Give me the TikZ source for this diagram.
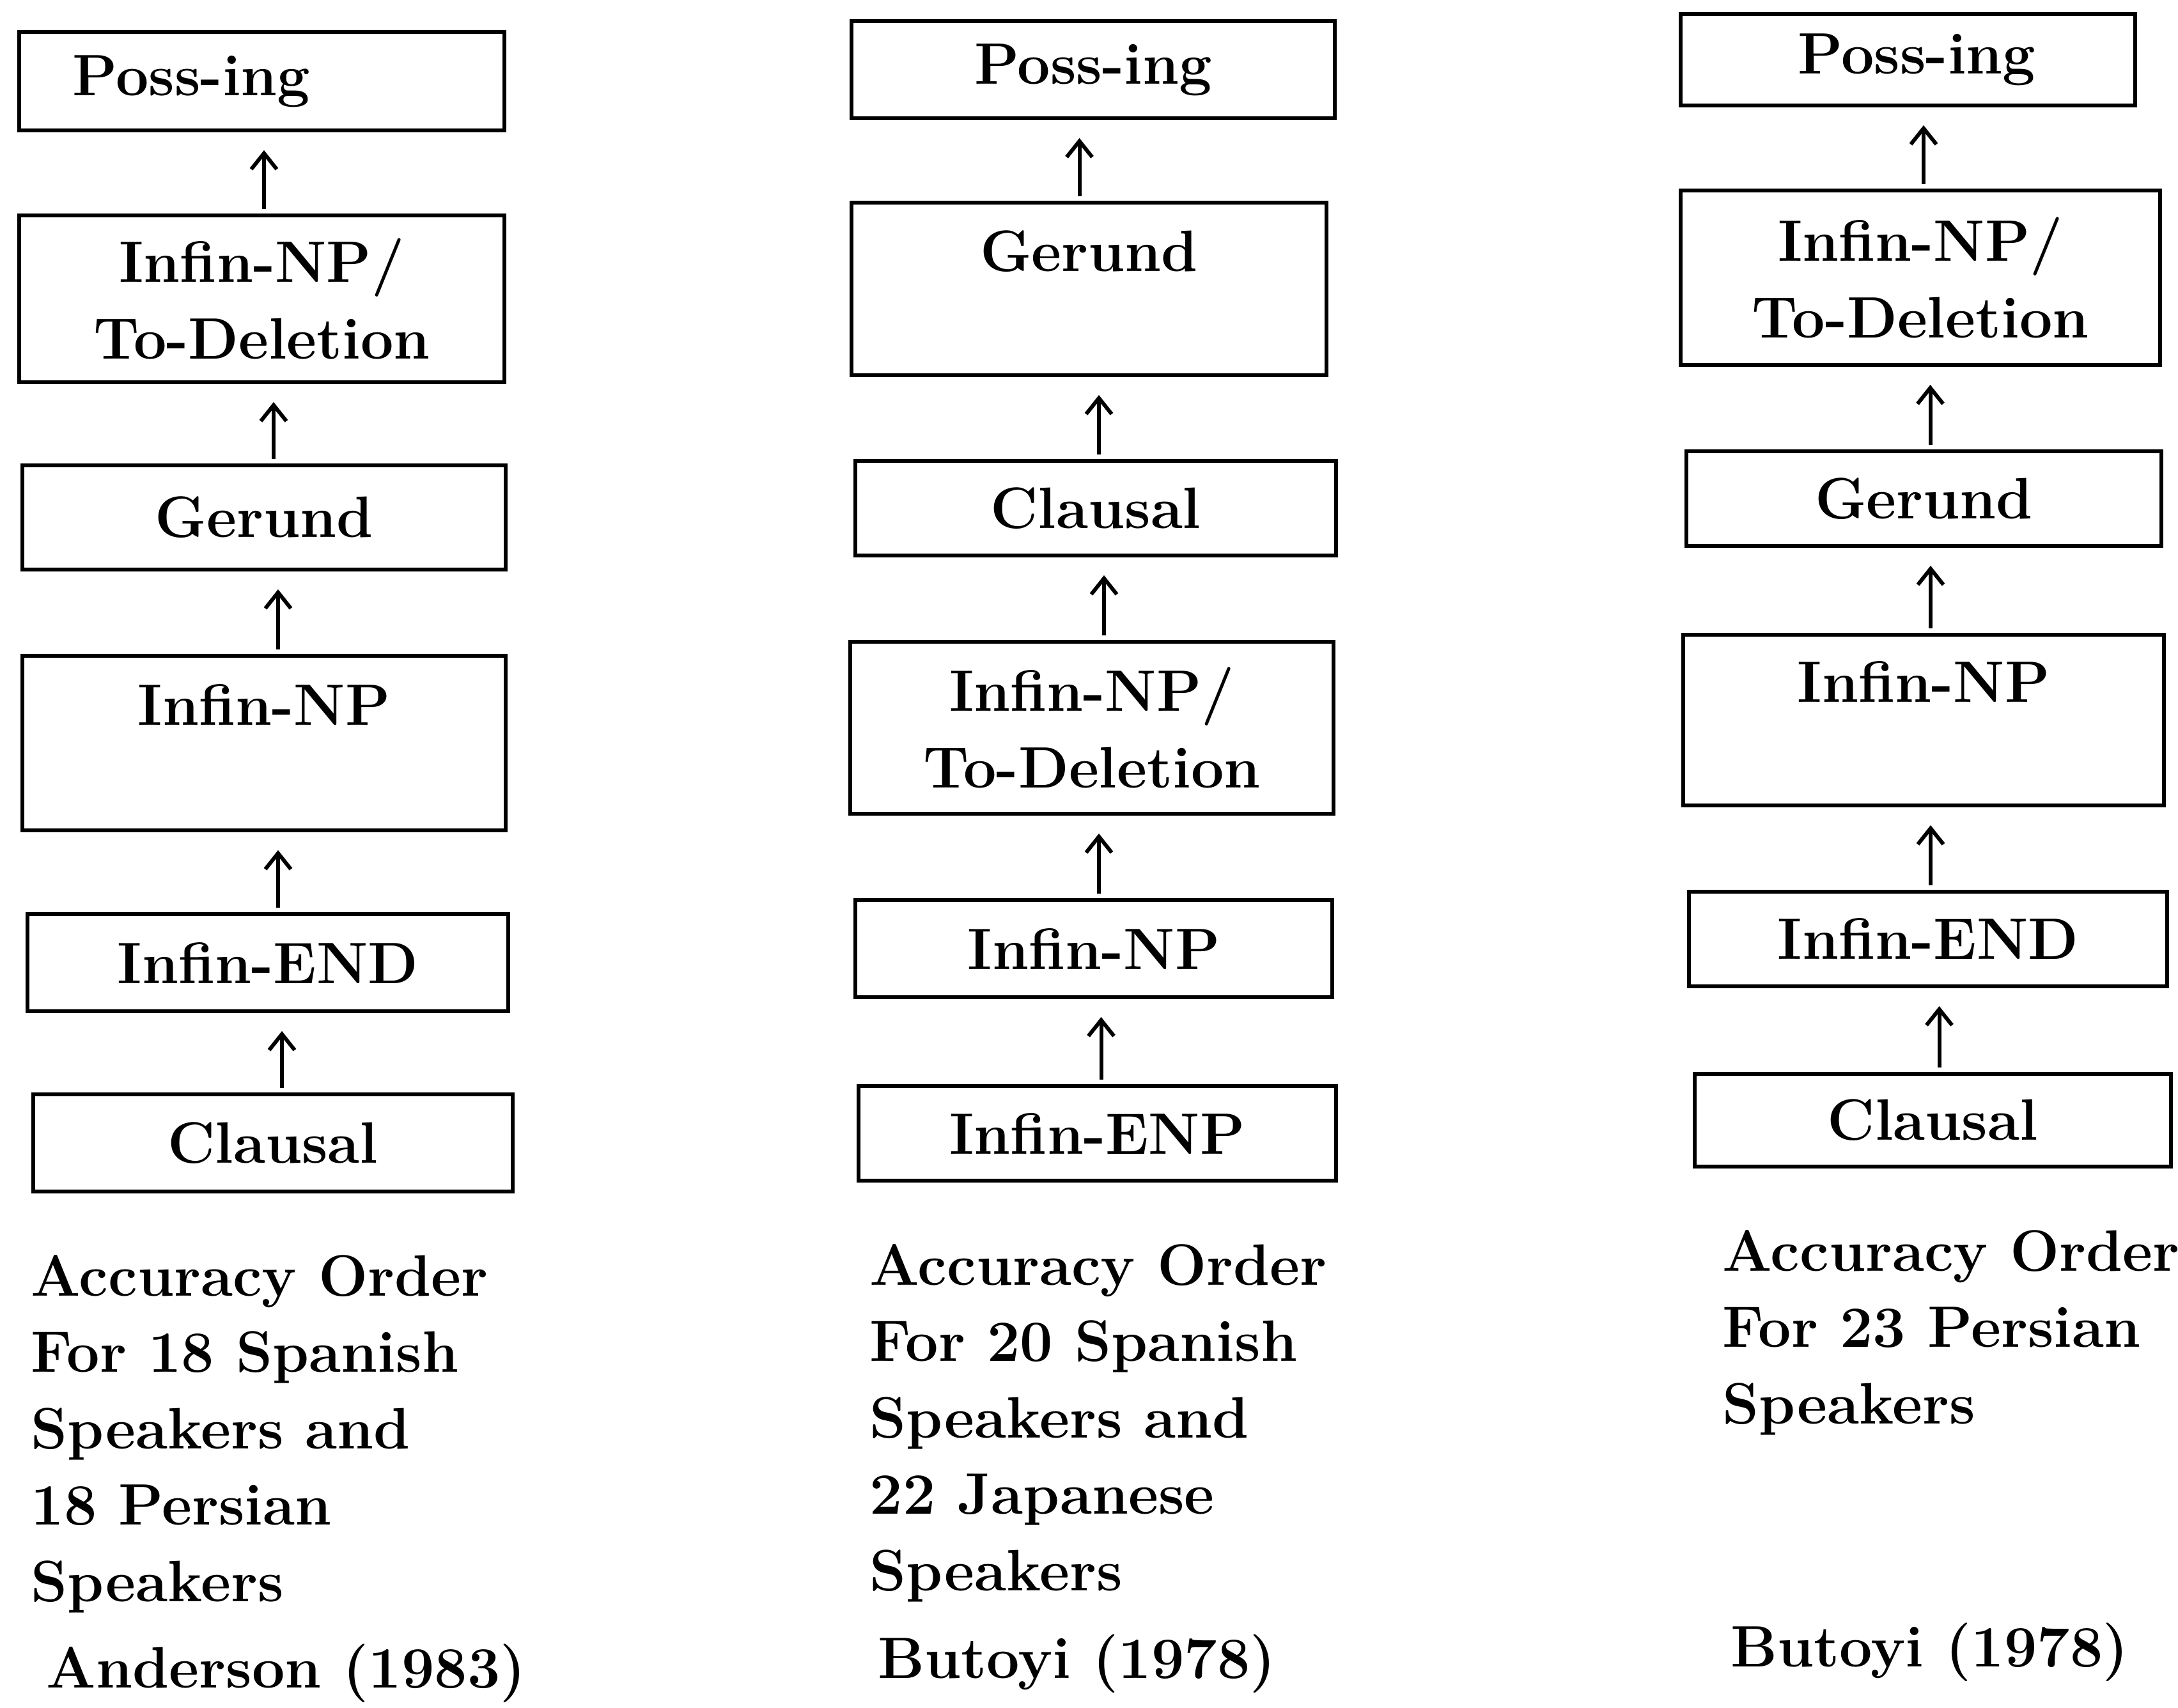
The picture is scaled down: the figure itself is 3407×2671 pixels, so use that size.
\documentclass[tikz,border=0pt]{standalone}
\usetikzlibrary{arrows.meta}
\begin{document}
\begin{tikzpicture}[x=0.1mm,y=-0.1mm,
  box/.style={draw, line width=1.7pt, inner sep=0pt, align=center,
    font=\fontsize{26}{34}\selectfont\bfseries},
  arr/.style={line width=1.7pt, -{Straight Barb[length=2.5mm,width=4mm]},
    shorten <=0.7mm, shorten >=2.8mm},
  captext/.style={anchor=base west, align=left, inner sep=0pt,
    font=\fontsize{26}{34}\selectfont\bfseries}]
\useasboundingbox (0,0) rectangle (3407,2671);

% column 1
\node[box, minimum width=75.9mm, minimum height=15.4mm] (P1) at (409.5,127) {Poss-ing\hspace*{22mm}};
\node[box, minimum width=75.9mm, minimum height=26.1mm] (I1) at (409.5,467.5) {Infin-NP/\\To-Deletion};
\node[box, minimum width=75.6mm, minimum height=16.3mm] (G1) at (413,809.5) {Gerund};
\node[box, minimum width=75.6mm, minimum height=27.3mm] (N1) at (413,1162.5) {Infin-NP\\~};
\node[box, minimum width=75.2mm, minimum height=15.2mm] (E1) at (419,1506) {Infin-END};
\node[box, minimum width=75.0mm, minimum height=15.2mm] (C1) at (427,1788) {Clausal};

\draw[arr] ([xshift=0.35mm]I1.north) coordinate (a11) -- (a11 |- P1.south);
\draw[arr] ([xshift=1.5mm]G1.north) coordinate (a12) -- (a12 |- I1.south);
\draw[arr] ([xshift=2.2mm]N1.north) coordinate (a13) -- (a13 |- G1.south);
\draw[arr] ([xshift=1.6mm]E1.north) coordinate (a14) -- (a14 |- N1.south);
\draw[arr] ([xshift=1.4mm]C1.north) coordinate (a15) -- (a15 |- E1.south);

% column 2
\node[box, minimum width=75.6mm, minimum height=15.2mm] (P2) at (1710,109) {Poss-ing};
\node[box, minimum width=74.3mm, minimum height=27.0mm] (G2) at (1703.5,452) {Gerund\\~};
\node[box, minimum width=75.2mm, minimum height=14.8mm] (C2) at (1714,795) {Clausal};
\node[box, minimum width=75.6mm, minimum height=26.9mm] (I2) at (1708,1138.5) {Infin-NP/\\To-Deletion};
\node[box, minimum width=74.6mm, minimum height=15.2mm] (N2) at (1711,1484) {Infin-NP};
\node[box, minimum width=74.7mm, minimum height=14.8mm] (E2) at (1716.5,1773) {Infin-ENP};

\draw[arr] ([xshift=-1.5mm]G2.north) coordinate (a21) -- (a21 |- P2.south);
\draw[arr] ([xshift=0.5mm]C2.north) coordinate (a22) -- (a22 |- G2.south);
\draw[arr] ([xshift=1.9mm]I2.north) coordinate (a23) -- (a23 |- C2.south);
\draw[arr] ([xshift=0.8mm]N2.north) coordinate (a24) -- (a24 |- I2.south);
\draw[arr] ([xshift=0.6mm]E2.north) coordinate (a25) -- (a25 |- N2.south);

% column 3
\node[box, minimum width=71.1mm, minimum height=14.3mm] (P3) at (2984.5,93.5) {\hspace*{2.8mm}Poss-ing};
\node[box, minimum width=75.0mm, minimum height=27.3mm] (I3) at (3004,434.5) {Infin-NP/\\To-Deletion};
\node[box, minimum width=74.3mm, minimum height=14.8mm] (G3) at (3009.5,780) {Gerund};
\node[box, minimum width=75.2mm, minimum height=26.7mm] (N3) at (3009,1126.5) {Infin-NP\\~};
\node[box, minimum width=74.8mm, minimum height=14.8mm] (E3) at (3016,1469) {Infin-END};
\node[box, minimum width=74.5mm, minimum height=14.5mm] (C3) at (3023.5,1752.5) {Clausal};

\draw[arr] ([xshift=0.5mm]I3.north) coordinate (a31) -- (a31 |- P3.south);
\draw[arr] ([xshift=1.0mm]G3.north) coordinate (a32) -- (a32 |- I3.south);
\draw[arr] ([xshift=1.1mm]N3.north) coordinate (a33) -- (a33 |- G3.south);
\draw[arr] ([xshift=0.4mm]E3.north) coordinate (a34) -- (a34 |- N3.south);
\draw[arr] ([xshift=1.0mm]C3.north) coordinate (a35) -- (a35 |- E3.south);

% captions (anchor = baseline of the last line)
\node[captext] (cap1) at (48,2505) {Accuracy Order\\For 18 Spanish\\Speakers and\\18 Persian\\Speakers};
\node[captext] (ref1) at (72,2640) {Anderson (1983)};
\node[captext] (cap2) at (1360,2488) {Accuracy Order\\For 20 Spanish\\Speakers and\\22 Japanese\\Speakers};
\node[captext] (ref2) at (1373,2625) {Butoyi (1978)};
\node[captext] (cap3) at (2694,2227) {Accuracy Order\\For 23 Persian\\Speakers};
\node[captext] (ref3) at (2707,2607) {Butoyi (1978)};
\end{tikzpicture}
\end{document}
